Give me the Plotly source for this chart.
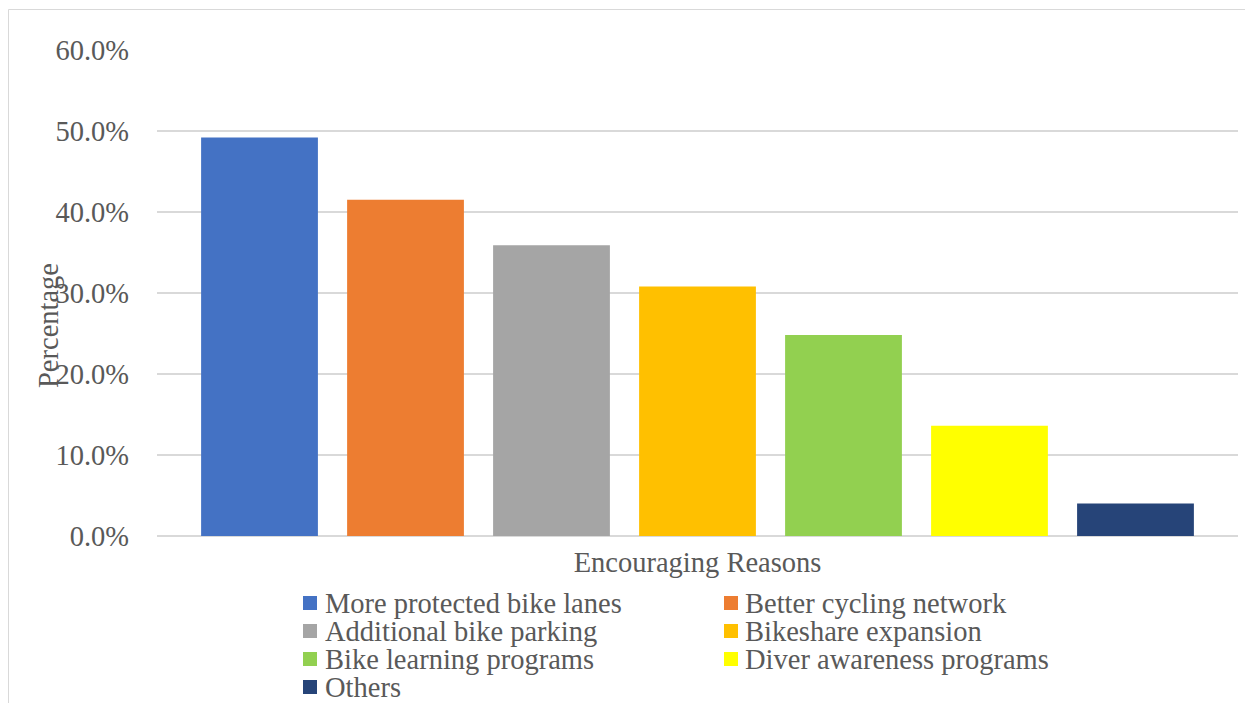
import plotly.graph_objects as go

category = ["Encouraging Reasons"]
reasons = [
    "More protected bike lanes",
    "Better cycling network",
    "Additional bike parking",
    "Bikeshare expansion",
    "Bike learning programs",
    "Diver awareness programs",
    "Others",
]
values = [0.492, 0.415, 0.359, 0.308, 0.248, 0.136, 0.040]
colors = ["#4472C4", "#ED7D31", "#A5A5A5", "#FFC000", "#92D050", "#FFFF00", "#264478"]
y_ticks = [0.0, 0.1, 0.2, 0.3, 0.4, 0.5, 0.6]

OFF = 8  # default page body margin
W, H = 1253 - OFF, 703 - OFF
L, R, T, B = 157 - OFF, 15, 50 - OFF, 167
PW, PH = W - L - R, H - T - B
FONT = "Liberation Serif, Times New Roman, serif"
FS = 28.5
TXT = "#595959"
GRID = "#D9D9D9"


def px_x(px):
    return (px - OFF - L) / PW


def px_y(py):
    return (H - B - (py - OFF)) / PH


fig = go.Figure()
for name, val, col in zip(reasons, values, colors):
    fig.add_trace(go.Bar(x=category, y=[val], name=name, marker=dict(color=col, line=dict(width=0)),
                         showlegend=False))

annotations = []
shapes = []
# manual legend (2 columns)
col_marker_x = [303, 724]
col_text_x = [324, 744]
row_y = [603, 631, 659, 687]
for i, (name, col) in enumerate(zip(reasons, colors)):
    c, r = i % 2, i // 2
    cy = row_y[r]
    shapes.append(dict(type="rect", xref="paper", yref="paper",
                       x0=px_x(col_marker_x[c]), x1=px_x(col_marker_x[c] + 14),
                       y0=px_y(cy + 7), y1=px_y(cy - 7),
                       fillcolor=col, line=dict(width=0)))
    annotations.append(dict(text=name, xref="paper", yref="paper", x=px_x(col_text_x[c]), y=px_y(cy),
                            xanchor="left", yanchor="middle", showarrow=False, borderpad=0,
                            font=dict(family=FONT, size=FS, color=TXT)))

# y axis title
annotations.append(dict(text="Percentage", xref="paper", yref="paper", x=px_x(48), y=px_y(326),
                        xanchor="center", yanchor="middle", textangle=-90, showarrow=False,
                        font=dict(family=FONT, size=FS, color=TXT)))

# outer chart border
shapes.append(dict(type="rect", xref="paper", yref="paper", x0=px_x(8.5), x1=px_x(1265),
                   y0=px_y(715), y1=px_y(9.5), line=dict(color=GRID, width=1), fillcolor="rgba(0,0,0,0)",
                   layer="below"))

fig.update_layout(
    width=W, height=H,
    margin=dict(l=L, r=R, t=T, b=B, autoexpand=False),
    paper_bgcolor="white", plot_bgcolor="white",
    barmode="group", bargap=0.0546, bargroupgap=0.2,
    font=dict(family=FONT, size=FS, color=TXT),
    showlegend=False,
    annotations=annotations,
    shapes=shapes,
    xaxis=dict(showgrid=False, zeroline=False, showline=False, ticks="",
               tickfont=dict(family=FONT, size=FS, color=TXT), ticklabelstandoff=6),
    yaxis=dict(range=[0, 0.6], tickvals=y_ticks, tickformat=".1%", showgrid=True,
               gridcolor=GRID, gridwidth=1.5, zeroline=True, zerolinecolor=GRID, zerolinewidth=1.5,
               showline=False, ticks="", ticklabelstandoff=27,
               tickfont=dict(family=FONT, size=FS, color=TXT)),
)

fig.write_html("out.html")
